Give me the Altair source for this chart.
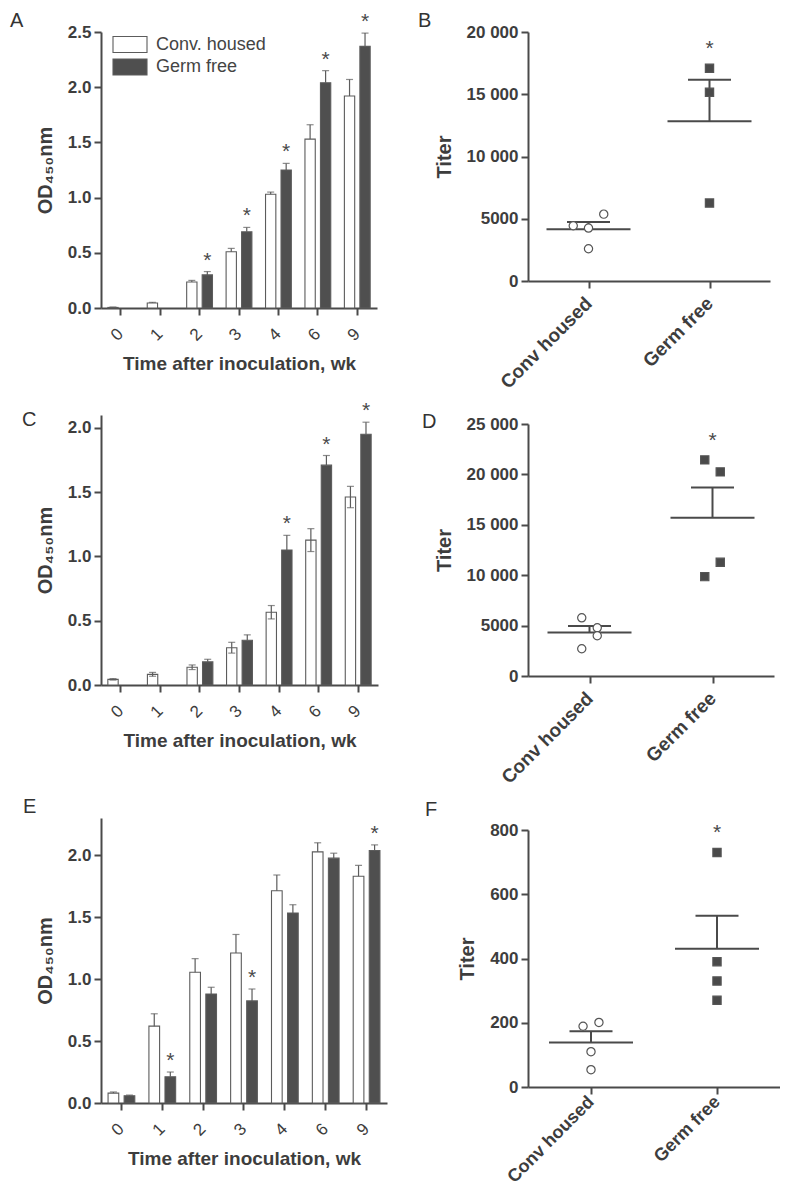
import altair as alt
import pandas as pd

weeks = ["0", "1", "2", "3", "4", "6", "9"]
series = ["Conv. housed", "Germ free"]
scatter_groups = ["Conv housed", "Germ free"]

# Panel A (OD450, mean and SEM per week)
a_conv_mean = [0.005, 0.045, 0.235, 0.51, 1.03, 1.53, 1.92]
a_conv_err = [0.004, 0.006, 0.015, 0.03, 0.02, 0.13, 0.15]
a_germ_mean = [None, None, 0.30, 0.69, 1.25, 2.04, 2.37]
a_germ_err = [None, None, 0.03, 0.04, 0.06, 0.11, 0.12]
a_sig = ["2", "3", "4", "6", "9"]

# Panel C
c_conv_mean = [0.044, 0.083, 0.138, 0.29, 0.566, 1.127, 1.462]
c_conv_err = [0.006, 0.015, 0.018, 0.042, 0.052, 0.089, 0.083]
c_germ_mean = [None, None, 0.18, 0.348, 1.05, 1.71, 1.95]
c_germ_err = [None, None, 0.02, 0.042, 0.114, 0.075, 0.094]
c_sig = ["4", "6", "9"]

# Panel E
e_conv_mean = [0.08, 0.62, 1.055, 1.21, 1.713, 2.027, 1.83]
e_conv_err = [0.009, 0.10, 0.11, 0.15, 0.127, 0.073, 0.087]
e_germ_mean = [0.059, 0.212, 0.88, 0.824, 1.533, 1.976, 2.038]
e_germ_err = [0.005, 0.038, 0.054, 0.096, 0.067, 0.04, 0.045]
e_sig = ["1", "3", "9"]

# Panel B (titers of individual animals; slot = beeswarm column)
b_conv = [4440, 4250, 5370, 2590]
b_conv_slot = [-2, 0, 2, 0]
b_germ = [17090, 15160, 6260]
b_germ_slot = [0, 0, 0]

# Panel D
d_conv = [5770, 4780, 3990, 2700]
d_conv_slot = [-1, 1, 1, -1]
d_germ = [21440, 20250, 11280, 9860]
d_germ_slot = [-1, 1, 1, -1]

# Panel F
f_conv = [189, 201, 110, 54]
f_conv_slot = [-1, 1, 0, 0]
f_germ = [730, 390, 330, 270]
f_germ_slot = [0, 0, 0, 0]

INK = "#4a4a4a"
TXT = "#3d3d3d"
FONT = "Liberation Sans"


def bar_table(cm, ce, gm, ge, both_sided):
    rows = []
    for s, means, errs in ((series[0], cm, ce), (series[1], gm, ge)):
        for w, m, e in zip(weeks, means, errs):
            if m is None:
                continue
            low = both_sided and s == series[0]
            rows.append({"week": w, "group": s, "mean": m, "up": m + e,
                         "lo": m - e if low else m, "lowcap": low})
    return pd.DataFrame(rows)


def letter_layers(letter, lx, ly, extent):
    lab = alt.Chart(pd.DataFrame({"t": [letter]})).mark_text(
        align="left", baseline="top", fontSize=20, font=FONT, color="#333333"
    ).encode(text="t:N", x=alt.value(lx), y=alt.value(ly))
    ghost = alt.Chart(pd.DataFrame({"t": [0]})).mark_rule(opacity=0).encode(
        x=alt.value(-extent), y=alt.value(0), y2=alt.value(2))
    return [lab, ghost]


def bar_panel(cm, ce, gm, ge, sig, ymax, w, h, letter, lx, ly, extent,
              both_sided=False, legend=False):
    df = bar_table(cm, ce, gm, ge, both_sided)
    xenc = alt.X("week:N", sort=weeks,
                 scale=alt.Scale(domain=weeks, paddingInner=0, paddingOuter=0),
                 axis=alt.Axis(title="Time after inoculation, wk", labelAngle=-45,
                               labelAlign="right", labelBaseline="middle",
                               labelFontWeight="normal", labelFontSize=17,
                               labelPadding=16, titlePadding=11, titleFontSize=19))
    xo = alt.XOffset("group:N", scale=alt.Scale(domain=series, paddingInner=0.335,
                                                 paddingOuter=0.44))
    yscale = alt.Scale(domain=[0, ymax], nice=False, zero=True)
    ticks = [v for v in [0, 0.5, 1.0, 1.5, 2.0, 2.5] if v <= ymax + 1e-9]
    yaxis = alt.Axis(title="OD₄₅₀nm", values=ticks, format=".1f",
                     labelPadding=3, titlePadding=12)

    def Y(f):
        return alt.Y(f, scale=yscale, axis=yaxis)

    if legend:
        leg = alt.Legend(orient="none", legendX=19.5, legendY=3, title=None,
                         symbolType="M-2,-0.94H2V0.94H-2Z", symbolSize=289,
                         symbolStrokeColor="#5c5c5c", symbolStrokeWidth=1.1,
                         symbolOpacity=1, labelFontSize=18, labelFont=FONT,
                         labelColor="#444444", labelOffset=16.5, rowPadding=1.5,
                         padding=0)
    else:
        leg = None
    fill = alt.Fill("group:N", scale=alt.Scale(domain=series, range=["#ffffff", "#4f4f4f"]),
                    legend=leg)
    base = alt.Chart(df)
    bars = base.mark_bar(stroke="#5c5c5c", strokeWidth=1.1).encode(
        x=xenc, xOffset=xo, y=Y("mean:Q"), fill=fill)
    rules = base.mark_rule(color="#5c5c5c", strokeWidth=1.2).encode(
        x=xenc, xOffset=xo, y=Y("lo:Q"), y2="up:Q")
    caps = base.mark_tick(color="#5c5c5c", thickness=1.2, size=7, orient="horizontal").encode(
        x=xenc, xOffset=xo, y=Y("up:Q"))
    lowcaps = base.transform_filter("datum.lowcap").mark_tick(
        color="#5c5c5c", thickness=1.2, size=7, orient="horizontal").encode(
        x=xenc, xOffset=xo, y=Y("lo:Q"))
    star_df = df[(df["group"] == series[1]) & (df["week"].isin(sig))]
    stars = alt.Chart(star_df).mark_text(text="*", fontSize=21, font=FONT, dy=-5,
                                          baseline="alphabetic", color=INK).encode(
        x=xenc, xOffset=xo, y=Y("up:Q"))
    layers = [bars, rules, caps]
    if both_sided:
        layers.append(lowcaps)
    layers.append(stars)
    layers += letter_layers(letter, lx, ly, extent)
    return alt.layer(*layers).properties(width=w, height=h)


def scatter_panel(cv, cs, gv, gs, ymax, yticks, w, h, letter, lx, ly, extent,
                  lab_size=19, lab_pad=12):
    rows = [{"group": scatter_groups[0], "titer": v, "slot": s} for v, s in zip(cv, cs)]
    rows += [{"group": scatter_groups[1], "titer": v, "slot": s} for v, s in zip(gv, gs)]
    df = pd.DataFrame(rows)
    idx = "indexof(['Conv housed','Germ free'], datum.group)"
    xscale = alt.Scale(domain=[-0.5, 1.5], nice=False, zero=False)
    xaxis = alt.Axis(title=None, values=[0, 1],
                     labelExpr="datum.value == 0 ? 'Conv housed' : 'Germ free'",
                     labelAngle=-45, labelAlign="right", labelBaseline="middle",
                     labelFontSize=lab_size, labelPadding=lab_pad, grid=False)
    yscale = alt.Scale(domain=[0, ymax], nice=False, zero=True)
    yaxis = alt.Axis(title="Titer", values=yticks,
                     labelExpr="datum.value >= 10000 ? replace(format(datum.value, ','), ',', ' ') : format(datum.value, 'd')",
                     labelPadding=3, titlePadding=12)

    def X(f):
        return alt.X(f, scale=xscale, axis=xaxis)

    def Y(f):
        return alt.Y(f, scale=yscale, axis=yaxis)

    base = alt.Chart(df)
    pts = base.transform_calculate(xpos=idx + " + datum.slot * 0.063").mark_point(
        filled=True, stroke="#555555", strokeWidth=1.2, size=68, opacity=1).encode(
        x=X("xpos:Q"), y=Y("titer:Q"),
        shape=alt.Shape("group:N", scale=alt.Scale(domain=scatter_groups, range=["circle", "square"]), legend=None),
        fill=alt.Fill("group:N", scale=alt.Scale(domain=scatter_groups, range=["#ffffff", "#4a4a4a"]), legend=None))
    agg = base.transform_aggregate(m="mean(titer)", se="stderr(titer)", groupby=["group"]).transform_calculate(
        idx=idx, up="datum.m + datum.se")
    mean_line = agg.mark_tick(orient="horizontal", size=84, thickness=2, color=INK, opacity=1).encode(
        x=X("idx:Q"), y=Y("m:Q"))
    sem_rule = agg.mark_rule(strokeWidth=2, color=INK).encode(x=X("idx:Q"), y=Y("m:Q"), y2="up:Q")
    sem_cap = agg.mark_tick(orient="horizontal", size=43, thickness=2, color=INK, opacity=1).encode(
        x=X("idx:Q"), y=Y("up:Q"))
    star = base.transform_filter("datum.group == 'Germ free'").transform_aggregate(
        top="max(titer)", groupby=["group"]).transform_calculate(idx=idx).mark_text(
        text="*", fontSize=21, font=FONT, dy=-13, baseline="alphabetic", color=INK).encode(
        x=X("idx:Q"), y=Y("top:Q"))
    layers = [mean_line, sem_rule, sem_cap, pts, star] + letter_layers(letter, lx, ly, extent)
    return alt.layer(*layers).properties(width=w, height=h)


def res(c):
    return c.resolve_scale(fill="independent", shape="independent", xOffset="independent")


A = bar_panel(a_conv_mean, a_conv_err, a_germ_mean, a_germ_err, a_sig, 2.5, 276, 276,
              "A", -91, -21, 91, legend=True)
C = bar_panel(c_conv_mean, c_conv_err, c_germ_mean, c_germ_err, c_sig, 2.1, 277, 270,
              "C", -79, -5, 88, both_sided=True)
E = bar_panel(e_conv_mean, e_conv_err, e_germ_mean, e_germ_err, e_sig, 2.3, 286, 285,
              "E", -78, -21, 93)
B = scatter_panel(b_conv, b_conv_slot, b_germ, b_germ_slot, 20000,
                  [0, 5000, 10000, 15000, 20000], 242, 249, "B", -110, -21, 111)
D = scatter_panel(d_conv, d_conv_slot, d_germ, d_germ_slot, 25000,
                  [0, 5000, 10000, 15000, 20000, 25000], 246, 252, "D", -106, -12, 107)
F = scatter_panel(f_conv, f_conv_slot, f_germ, f_germ_slot, 800,
                  [0, 200, 400, 600, 800], 252, 257, "F", -103, -30, 103,
                  lab_size=18, lab_pad=5)

left = res(alt.vconcat(A, res(alt.vconcat(C, E, spacing=46)), spacing=26))
right = res(alt.vconcat(B, res(alt.vconcat(D, F, spacing=12)), spacing=19))

chart = res(alt.hconcat(left, right, spacing=30)).properties(
    padding={"top": 3, "left": 0, "right": 0, "bottom": 0}, background="white"
).configure_axis(
    domainColor=INK, domainWidth=2, tickColor=INK, tickWidth=2, tickSize=7,
    labelFont=FONT, labelFontSize=17, labelFontWeight="bold", labelColor=TXT,
    titleFont=FONT, titleFontSize=20, titleFontWeight="bold", titleColor=TXT,
    grid=False
).configure_view(stroke=None)

chart.save("out.html", embed_options={"renderer": "svg", "actions": False})
